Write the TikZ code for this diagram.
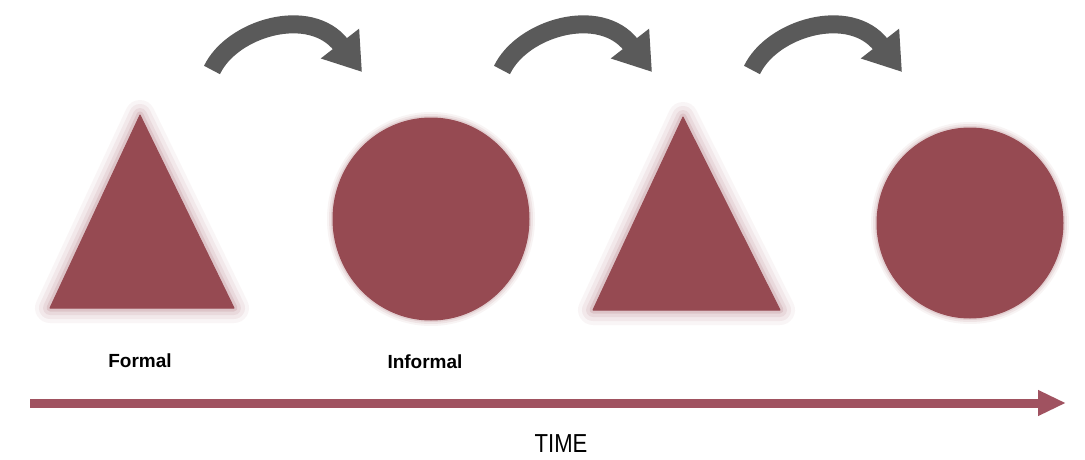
\documentclass[tikz,border=0pt]{standalone}
\usepackage{fontspec}
\usepackage{graphicx}
\setmainfont{Liberation Sans}
\usetikzlibrary{arrows.meta}
\definecolor{shapecol}{RGB}{150,74,82}
\definecolor{timecol}{RGB}{160,82,96}
\definecolor{arrowgrey}{RGB}{90,90,90}
\tikzset{
  haze/.style={draw=shapecol, line join=round},
  solid shape/.style={fill=shapecol, draw=shapecol, line width=1pt, line join=round},
  lbl/.style={font=\bfseries\fontsize{19}{21}\selectfont, text=black, inner sep=0pt},
  turnarrow/.style={draw=arrowgrey, line width=18pt, -{Triangle[length=36pt,width=46pt]}},
  timearrow/.style={draw=timecol, line width=9pt, -{Triangle[length=28pt,width=24pt]}},
}
\begin{document}
\begin{tikzpicture}[x=1pt,y=-1pt]
\useasboundingbox[fill=white] (0,0) rectangle (1085,460);

% time band haze
\shade[top color=white, middle color=timecol!28, bottom color=white] (20,380) rectangle (1070,430);

% soft halos
\foreach \w/\o in {30/0.05,22/0.07,14/0.09,7/0.14}{
  \draw[haze, line width=\w pt, opacity=\o] (140,115) -- (234,308) -- (50,308) -- cycle;
  \draw[haze, line width=\w pt, opacity=\o] (683,117) -- (780,310) -- (593,310) -- cycle;
}
\foreach \w/\o in {12/0.06,8/0.09,4/0.14}{
  \draw[haze, line width=\w pt, opacity=\o] (431,219) ellipse [x radius=98, y radius=101];
  \draw[haze, line width=\w pt, opacity=\o] (970,223) ellipse [x radius=93, y radius=95];
}

% shapes
\path[solid shape] (140,115) -- (234,308) -- (50,308) -- cycle;
\path[solid shape] (683,117) -- (780,310) -- (593,310) -- cycle;
\path[solid shape] (431,219) ellipse [x radius=98, y radius=101];
\path[solid shape] (970,223) ellipse [x radius=93, y radius=95];

% curved arrows
\coordinate (a1s) at (212,70);  \coordinate (a1e) at (362,72);
\coordinate (a2s) at (502,70);  \coordinate (a2e) at (652,72);
\coordinate (a3s) at (752,70);  \coordinate (a3e) at (902,72);
\draw[turnarrow] (a1s) .. controls +(20,-42) and +(-52,-67) .. (a1e);
\draw[turnarrow] (a2s) .. controls +(20,-42) and +(-52,-67) .. (a2e);
\draw[turnarrow] (a3s) .. controls +(20,-42) and +(-52,-67) .. (a3e);

% time arrow
\coordinate (ts) at (30,403);
\coordinate (te) at (1066,403);
\draw[timearrow] (ts) -- (te);

% labels
\node[lbl] (formal) at (140,361) {Formal};
\node[lbl] (informal) at (425,362) {Informal};
\node[lbl, font=\fontsize{26}{28}\selectfont] (time) at (561,444) {\scalebox{0.85}[1]{TIME}};
\end{tikzpicture}
\end{document}
